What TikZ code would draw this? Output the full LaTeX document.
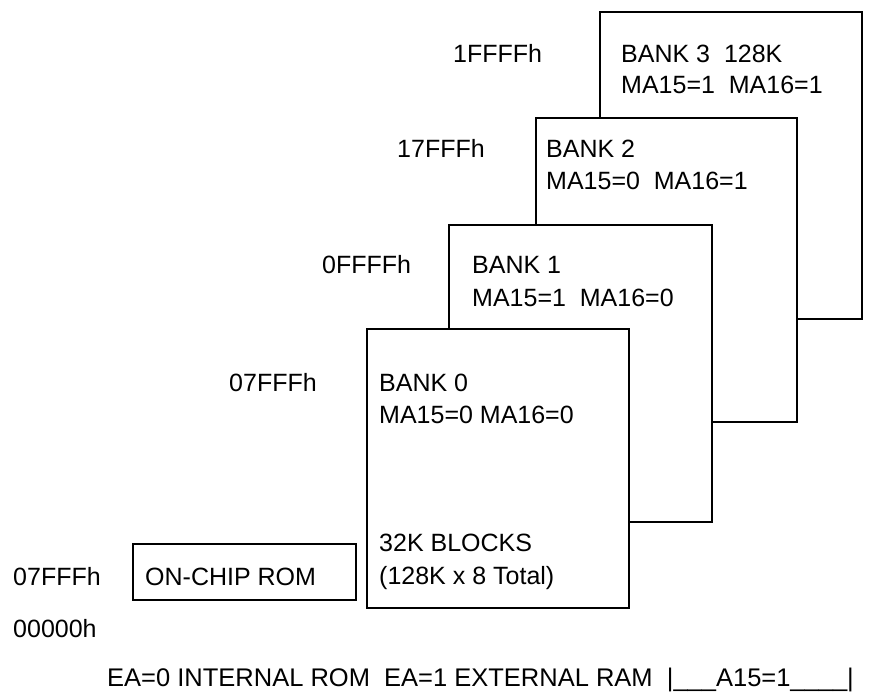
\documentclass[tikz,border=0pt]{standalone}
\usepackage{fontspec}
\setmainfont{Liberation Sans}

\begin{document}
\begin{tikzpicture}[x=1pt, y=-1pt,
    bank/.style={draw, fill=white, line width=2pt, inner sep=0pt},
    txt/.style={anchor=base west, inner sep=0pt, font=\fontsize{25}{30}\selectfont},
  ]
    \useasboundingbox (0,0) rectangle (878,694);
    % ── Banks (back to front) ──
    \node[bank, minimum width=262pt, minimum height=307pt] (bank3) at (731,165.5) {};
    \node[bank, minimum width=261pt, minimum height=304pt] (bank2) at (666.5,270) {};
    \node[bank, minimum width=263pt, minimum height=297pt] (bank1) at (580.5,373.5) {};
    \node[bank, minimum width=262pt, minimum height=279pt] (bank0) at (498,468.5) {};
    \node[bank, minimum width=223pt, minimum height=56pt] (rom) at (244.5,572) {};
    % Bank texts
    \node[txt] (b3-name) at (621,62) {BANK 3\ \ 128K};
    \node[txt] (b3-ma) at (621,93) {MA15=1\ \ MA16=1};
    \node[txt] (b2-name) at (546,157) {BANK 2};
    \node[txt] (b2-ma) at (546,189) {MA15=0\ \ MA16=1};
    \node[txt] (b1-name) at (472,273) {BANK 1};
    \node[txt] (b1-ma) at (472,306) {MA15=1\ \ MA16=0};
    \node[txt] (b0-name) at (379,391) {BANK 0};
    \node[txt] (b0-ma) at (379,423) {MA15=0 MA16=0};
    \node[txt] (b0-blk) at (379,551) {32K BLOCKS};
    \node[txt] (b0-tot) at (379,584.5) {(128K x 8 Total)};
    \node[txt] (rom-name) at (145,585) {ON-CHIP ROM};
    % Addresses
    \node[txt] (a-1ffff) at (453,62) {1FFFFh};
    \node[txt] (a-17fff) at (397,157) {17FFFh};
    \node[txt] (a-0ffff) at (322,273) {0FFFFh};
    \node[txt] (a-07fff) at (229,391) {07FFFh};
    \node[txt] (a-rom) at (13,585) {07FFFh};
    \node[txt] (a-zero) at (13,637) {00000h};
    % ── Footer ──
    \node[txt, font=\fontsize{25.5}{30}\selectfont] (footer) at (107,686)
      {EA=0 INTERNAL ROM\ \ EA=1 EXTERNAL RAM\ \ |\_\_\_A15=1\_\_\_\_|};
  \end{tikzpicture}
\end{document}
